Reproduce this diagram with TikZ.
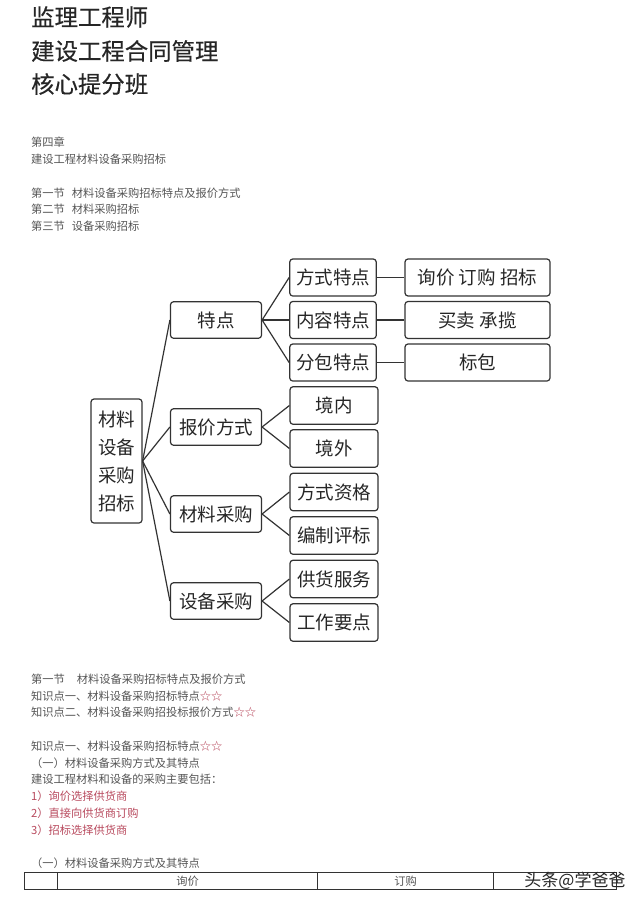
\documentclass[tikz,border=0pt]{standalone}
\usepackage{fontspec}
\setmainfont{Noto Sans CJK SC}
\newfontfamily\wmfont{Noto Sans CJK SC}
\newfontfamily\titlefont[FakeBold=0.35]{Noto Sans CJK SC}
\definecolor{inkdark}{HTML}{262626}
\definecolor{inkbody}{HTML}{555555}
\definecolor{inkred}{HTML}{B84A5E}
\definecolor{linecol}{HTML}{333333}
\newcommand{\redtxt}[1]{\textcolor{inkred}{#1}}
\tikzset{
  titletxt/.style={anchor=west,inner sep=0pt,text=inkdark,font=\titlefont\fontsize{23.4}{28}\selectfont},
  bodytxt/.style={anchor=west,inner sep=0pt,text=inkbody,font=\fontsize{11.25}{14}\selectfont},
  cell/.style={anchor=center,inner sep=0pt,text=inkbody,font=\fontsize{11.25}{14}\selectfont},
  mapbox/.style={draw=linecol,line width=1.2pt,rounded corners=3pt,inner sep=0pt,text=inkdark,
    font=\fontsize{18.5}{28}\selectfont,align=center},
  link/.style={draw=linecol,line width=1.2pt},
  tbl/.style={draw=linecol,line width=0.9pt}
}
\begin{document}
\begin{tikzpicture}[x=1pt,y=-1pt]
\useasboundingbox (0,0) rectangle (640,905);
% titles
\node[titletxt] (t1) at (31,17) {监理工程师};
\node[titletxt] (t2) at (31,51) {建设工程合同管理};
\node[titletxt] (t3) at (31,84) {核心提分班};
% top text
\node[bodytxt] (a1) at (31,142) {第四章};
\node[bodytxt] (a2) at (31,159) {建设工程材料设备采购招标};
\node[bodytxt] (a3) at (31,193) {第一节\hspace*{7pt}材料设备采购招标特点及报价方式};
\node[bodytxt] (a4) at (31,209.5) {第二节\hspace*{7pt}材料采购招标};
\node[bodytxt] (a5) at (31,226.5) {第三节\hspace*{7pt}设备采购招标};
% map boxes
\node[mapbox,minimum width=51pt,minimum height=124pt] (root) at (116.5,461) {材料\\设备\\采购\\招标};
\node[mapbox,minimum width=91pt,minimum height=36.5pt] (b1) at (216,320) {特点};
\node[mapbox,minimum width=91pt,minimum height=36.5pt] (b2) at (216,427) {报价方式};
\node[mapbox,minimum width=91pt,minimum height=36.5pt] (b3) at (216,514) {材料采购};
\node[mapbox,minimum width=91pt,minimum height=36.5pt] (b4) at (216,601) {设备采购};
\node[mapbox,minimum width=86.5pt,minimum height=37pt] (c1) at (333,277.5) {方式特点};
\node[mapbox,minimum width=86.5pt,minimum height=37pt] (c2) at (333,320) {内容特点};
\node[mapbox,minimum width=86.5pt,minimum height=37pt] (c3) at (333,362.5) {分包特点};
\node[mapbox,minimum width=88pt,minimum height=37.5pt] (c4) at (334,405.5) {境内};
\node[mapbox,minimum width=88pt,minimum height=37.5pt] (c5) at (334,448.5) {境外};
\node[mapbox,minimum width=88pt,minimum height=37.5pt] (c6) at (334,492) {方式资格};
\node[mapbox,minimum width=88pt,minimum height=37.5pt] (c7) at (334,535.5) {编制评标};
\node[mapbox,minimum width=88pt,minimum height=37.5pt] (c8) at (334,579) {供货服务};
\node[mapbox,minimum width=88pt,minimum height=37.5pt] (c9) at (334,622.5) {工作要点};
\node[mapbox,minimum width=145pt,minimum height=37pt] (d1) at (477.5,277.5) {询价 订购 招标};
\node[mapbox,minimum width=145pt,minimum height=37pt] (d2) at (477.5,320) {买卖 承揽};
\node[mapbox,minimum width=145pt,minimum height=37pt] (d3) at (477.5,362.5) {标包};
% connectors
\foreach \k in {b1,b2,b3,b4} \draw[link] (root.east) -- (\k.west);
\foreach \k in {c1,c2,c3} \draw[link] (b1.east) -- (\k.west);
\foreach \k in {c4,c5} \draw[link] (b2.east) -- (\k.west);
\foreach \k in {c6,c7} \draw[link] (b3.east) -- (\k.west);
\foreach \k in {c8,c9} \draw[link] (b4.east) -- (\k.west);
\draw[link] (c1.east) -- (d1.west);
\draw[link] (c2.east) -- (d2.west);
\draw[link] (c3.east) -- (d3.west);
% lower text
\node[bodytxt] (e1) at (31,679) {第一节\hspace*{12pt}材料设备采购招标特点及报价方式};
\node[bodytxt] (e2) at (31,696) {知识点一、材料设备采购招标特点\redtxt{☆☆}};
\node[bodytxt] (e3) at (31,712.5) {知识点二、材料设备采购招投标报价方式\redtxt{☆☆}};
\node[bodytxt] (e4) at (31,746) {知识点一、材料设备采购招标特点\redtxt{☆☆}};
\node[bodytxt] (e5) at (31,763) {（一）材料设备采购方式及其特点};
\node[bodytxt] (e6) at (31,779.5) {建设工程材料和设备的采购主要包括：};
\node[bodytxt,text=inkred] (e7) at (31,796.5) {1）询价选择供货商};
\node[bodytxt,text=inkred] (e8) at (31,813) {2）直接向供货商订购};
\node[bodytxt,text=inkred] (e9) at (31,830) {3）招标选择供货商};
\node[bodytxt] (e10) at (31,863.5) {（一）材料设备采购方式及其特点};
% table
\draw[tbl] (24.5,872) rectangle (616,889);
\coordinate (p1t) at (57,872); \coordinate (p1b) at (57,889);
\coordinate (p2t) at (317.5,872); \coordinate (p2b) at (317.5,889);
\coordinate (p3t) at (493.7,872); \coordinate (p3b) at (493.7,889);
\draw[tbl] (p1t) -- (p1b);
\draw[tbl] (p2t) -- (p2b);
\draw[tbl] (p3t) -- (p3b);
\node[cell] (h1) at (187.5,881) {询价};
\node[cell] (h2) at (405.5,881) {订购};
% watermark
\node[anchor=center,inner sep=0pt,text=inkdark,font=\wmfont\fontsize{17}{20}\selectfont] (wm) at (575,881) {头条@学爸爸};
\end{tikzpicture}
\end{document}
